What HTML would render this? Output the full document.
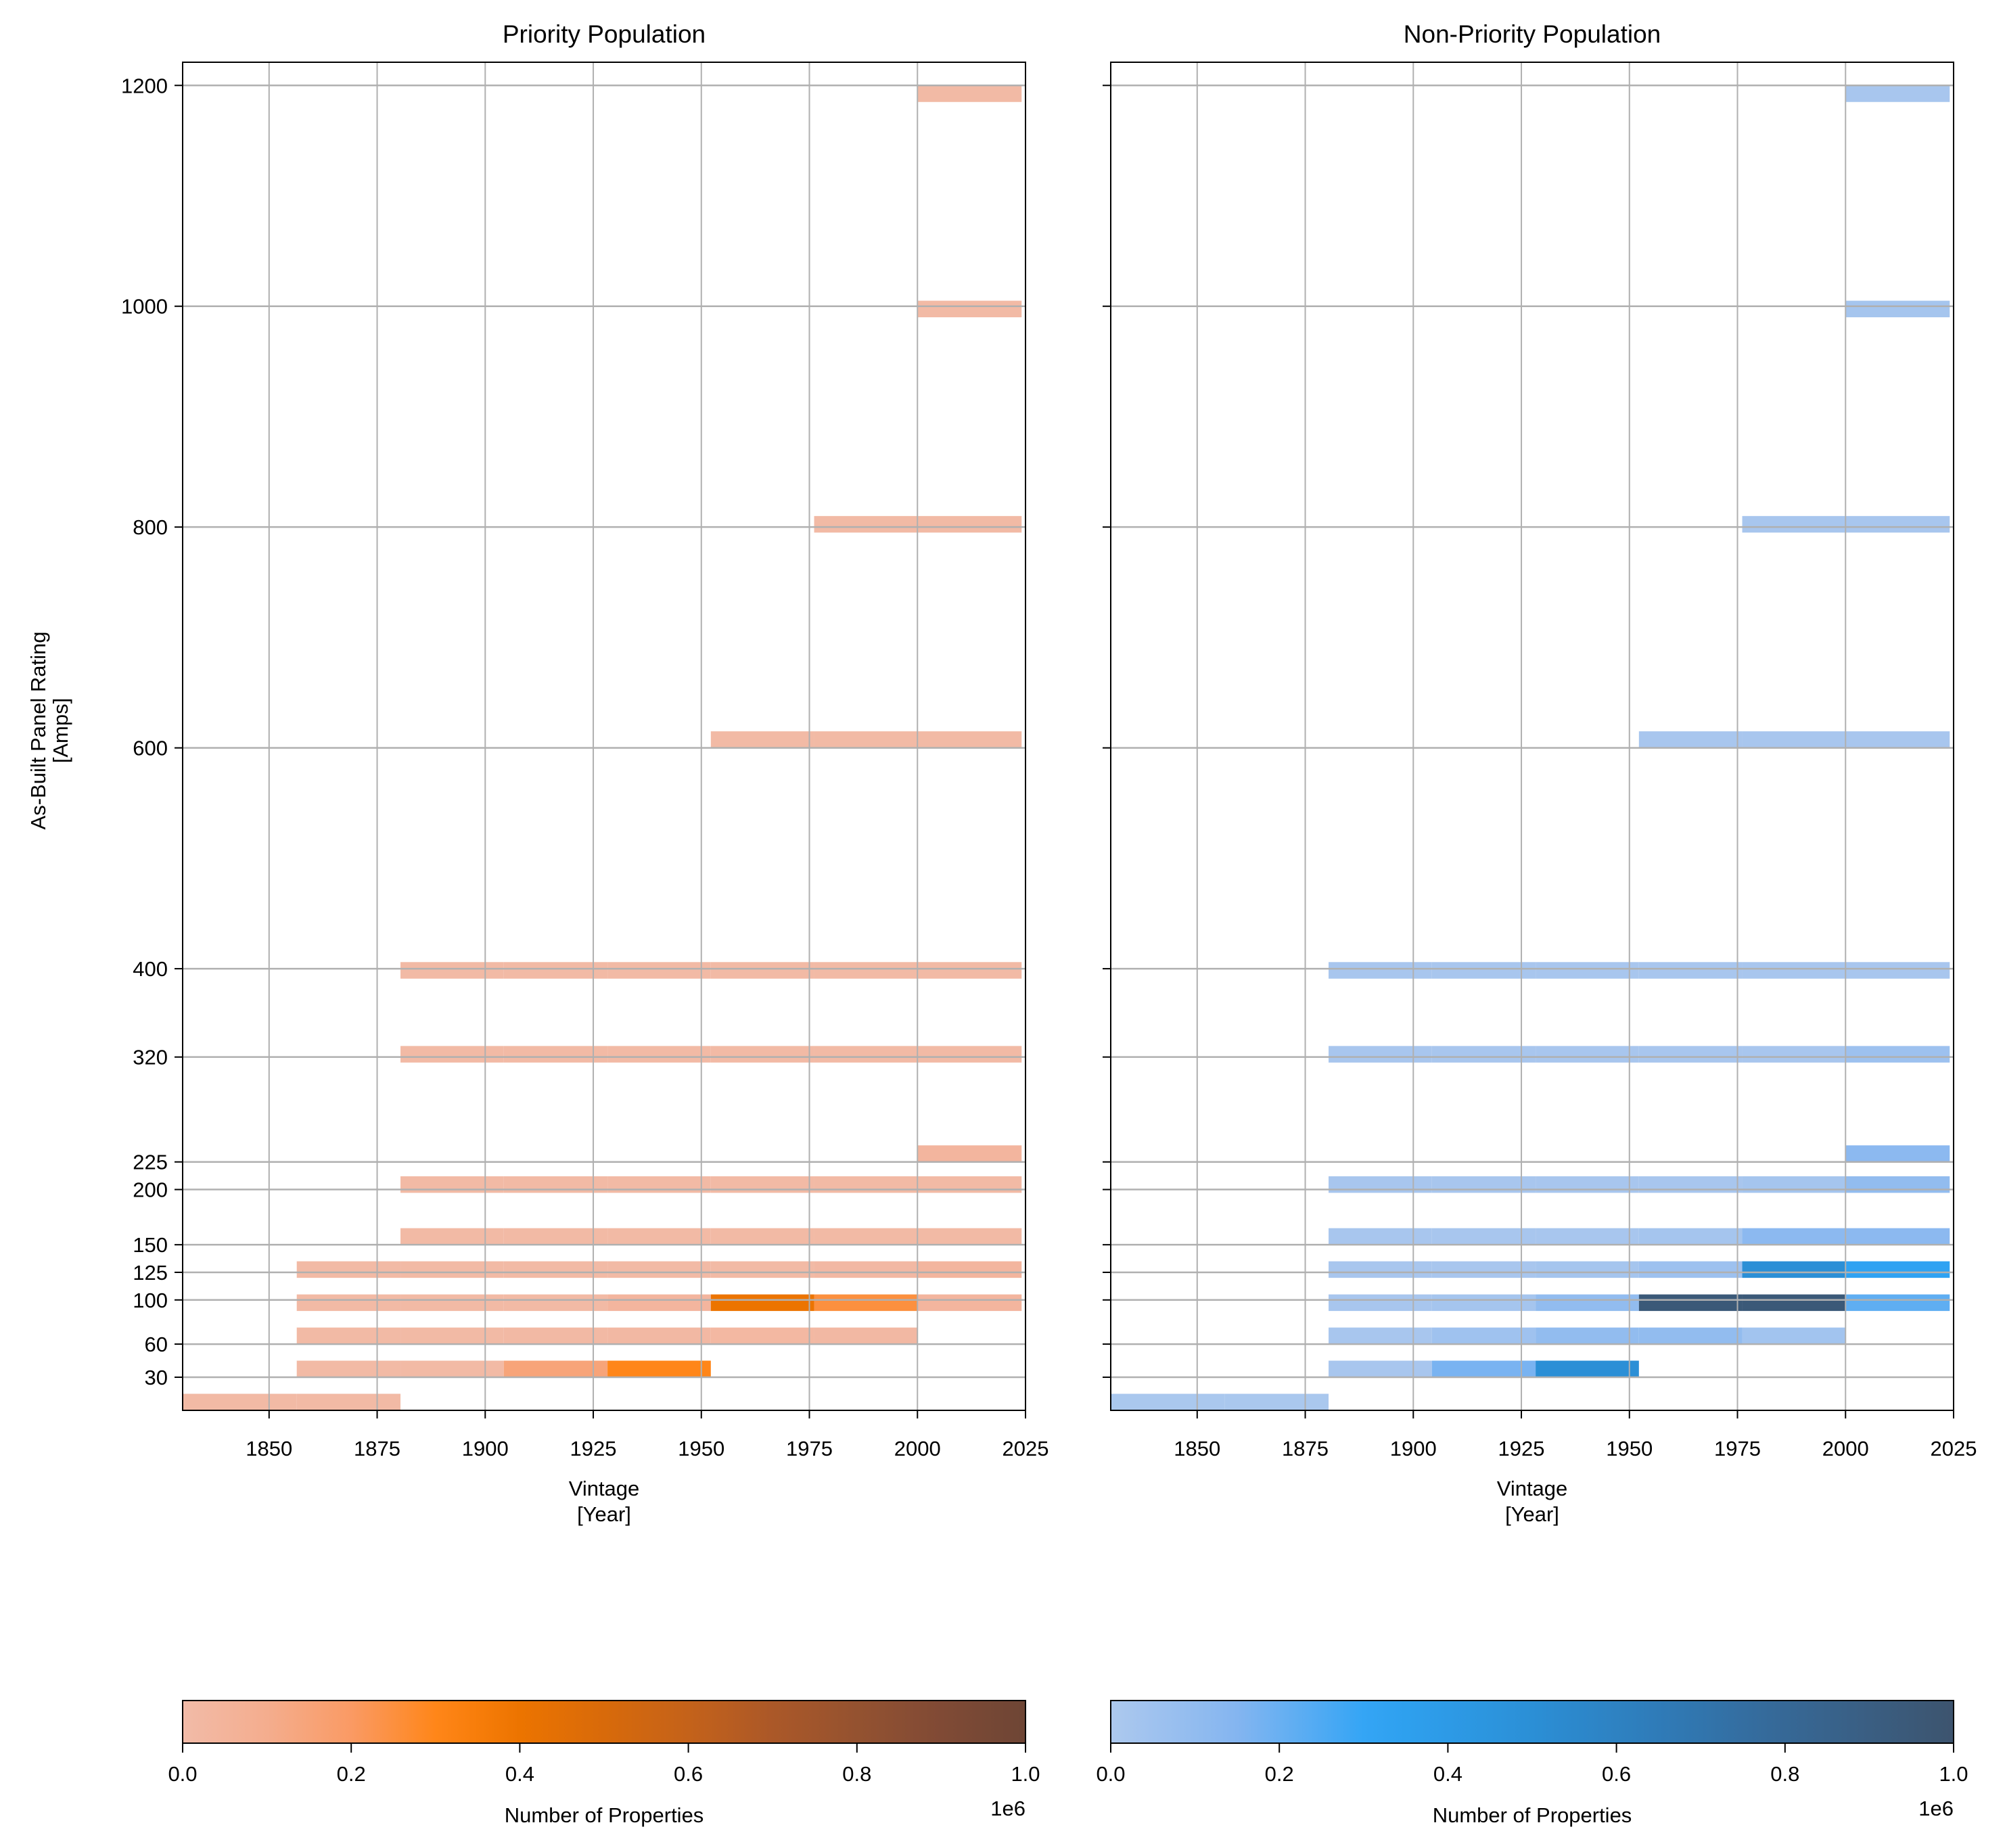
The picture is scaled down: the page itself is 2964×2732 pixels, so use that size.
<!DOCTYPE html>
<html><head><meta charset="utf-8">
<style>
html,body{margin:0;padding:0;background:#fff;}
svg{display:block;font-family:"Liberation Sans","DejaVu Sans",sans-serif;}
</style></head>
<body>
<svg id="chart" width="2964" height="2732" viewBox="0 0 2964 2732" xmlns="http://www.w3.org/2000/svg"></svg>
<script>
// ---- data ----
const binEdges = [1830, 1856.4, 1880.4, 1904.3, 1928.3, 1952.2, 1976.1, 2000.1, 2024.1];
const rowLow = [0, 30, 60, 90, 120, 150, 197, 225, 315, 391, 600, 795, 990, 1185];
const rowHeight = 15;
const yTicks = [30, 60, 100, 125, 150, 200, 225, 320, 400, 600, 800, 1000, 1200];
const xTicks = [1850, 1875, 1900, 1925, 1950, 1975, 2000, 2025];
const cbTicks = [0.0, 0.2, 0.4, 0.6, 0.8, 1.0];
const cbTickLabels = ["0.0", "0.2", "0.4", "0.6", "0.8", "1.0"];
// values in millions of properties; null = no bar
const priorityValues = [
  [0.01,0.01,null,null,null,null,null,null],
  [null,0.01,0.01,0.15,0.30,null,null,null],
  [null,0.01,0.01,0.015,0.02,0.025,0.02,null],
  [null,0.01,0.01,0.01,0.04,0.40,0.25,0.04],
  [null,0.01,0.01,0.01,0.01,0.01,0.02,0.04],
  [null,null,0.01,0.01,0.01,0.01,0.01,0.01],
  [null,null,0.01,0.01,0.01,0.01,0.01,0.01],
  [null,null,null,null,null,null,null,0.04],
  [null,null,0.01,0.01,0.01,0.01,0.01,0.01],
  [null,null,0.01,0.01,0.01,0.01,0.01,0.01],
  [null,null,null,null,null,0.01,0.01,0.01],
  [null,null,null,null,null,null,0.01,0.01],
  [null,null,null,null,null,null,null,0.01],
  [null,null,null,null,null,null,null,0.01]
];
const nonPriorityValues = [
  [0.01,0.01,null,null,null,null,null,null],
  [null,null,0.02,0.17,0.50,null,null,null],
  [null,null,0.02,0.05,0.10,0.10,0.04,null],
  [null,null,0.02,0.03,0.10,0.95,0.95,0.22],
  [null,null,0.02,0.02,0.03,0.06,0.50,0.33],
  [null,null,0.02,0.02,0.02,0.03,0.12,0.12],
  [null,null,0.02,0.02,0.02,0.02,0.03,0.10],
  [null,null,null,null,null,null,null,0.12],
  [null,null,0.02,0.02,0.02,0.02,0.02,0.06],
  [null,null,0.02,0.02,0.02,0.02,0.02,0.02],
  [null,null,null,null,null,0.02,0.02,0.02],
  [null,null,null,null,null,null,0.02,0.02],
  [null,null,null,null,null,null,null,0.03],
  [null,null,null,null,null,null,null,0.02]
];

// ---- colormaps ----
const orangeStops = [[0,"#f2bba8"],[0.1,"#f4ad8e"],[0.2,"#fa9a64"],[0.31,"#ff8412"],[0.4,"#ec7400"],[0.5,"#d86a0a"],[0.6,"#c4621a"],[0.7,"#ab5828"],[0.8,"#945230"],[0.9,"#804a35"],[1,"#6e4535"]];
const blueStops = [[0,"#adc9ee"],[0.15,"#84b5f0"],[0.31,"#2fa4f5"],[0.5,"#2b8fd6"],[0.65,"#2f7bb8"],[0.8,"#366896"],[1,"#3d546e"]];
function hex(c){return [parseInt(c.substr(1,2),16),parseInt(c.substr(3,2),16),parseInt(c.substr(5,2),16)];}
function cmap(stops,v){
  v=Math.max(0,Math.min(1,v));
  for(let i=1;i<stops.length;i++){
    if(v<=stops[i][0]){
      const t=(v-stops[i-1][0])/(stops[i][0]-stops[i-1][0]);
      const a=hex(stops[i-1][1]),b=hex(stops[i][1]);
      return "rgb("+a.map((x,k)=>Math.round(x+(b[k]-x)*t)).join(",")+")";
    }
  }
  return stops[stops.length-1][1];
}

const NS="http://www.w3.org/2000/svg";
const svg=document.getElementById('chart');
function el(tag,attrs,parent){const e=document.createElementNS(NS,tag);for(const k in attrs)e.setAttribute(k,attrs[k]);(parent||svg).appendChild(e);return e;}

const plotTop=92, plotBottom=2085, yMin=0, yMax=1221;
const xMin=1830, xMax=2025;
const FS=31;
function yScale(v){return plotBottom-(v-yMin)/(yMax-yMin)*(plotBottom-plotTop);}

function panel(left,right,title,values,stops,name,showY){
  const xScale=v=>left+(v-xMin)/(xMax-xMin)*(right-left);
  const g=el('g',{});
  
  
  values.forEach((row,ri)=>{
    row.forEach((v,bi)=>{
      if(v===null)return;
      const x0=xScale(binEdges[bi]),x1=xScale(binEdges[bi+1]);
      const y1=yScale(rowLow[ri]),y0=yScale(rowLow[ri]+rowHeight);
      const r=el('rect',{x:x0,y:y0,width:x1-x0,height:y1-y0,fill:cmap(stops,v)},g);
      
      
    });
  });
  xTicks.forEach(t=>{
    const x=xScale(t);
    const l=el('line',{x1:x,x2:x,y1:plotTop,y2:plotBottom,stroke:'#b0b0b0','stroke-width':2},g);
    
    
    el('line',{x1:x,x2:x,y1:plotBottom,y2:plotBottom+12,stroke:'#000','stroke-width':2},g);
    const tx=el('text',{x:x,y:2152,'text-anchor':'middle','font-size':FS,fill:'#000'},g);
    tx.textContent=t;
    
    
  });
  yTicks.forEach(t=>{
    const y=yScale(t);
    const l=el('line',{x1:left,x2:right,y1:y,y2:y,stroke:'#b0b0b0','stroke-width':2.5},g);
    
    
    el('line',{x1:left-12,x2:left,y1:y,y2:y,stroke:'#000','stroke-width':2},g);
    if(showY){
      const tx=el('text',{x:left-22,y:y+11,'text-anchor':'end','font-size':FS,fill:'#000'},g);
      tx.textContent=t;
      
      
    }
  });
  const fr=el('rect',{x:left,y:plotTop,width:right-left,height:plotBottom-plotTop,fill:'none',stroke:'#000','stroke-width':2},g);
  
  
  const tt=el('text',{x:(left+right)/2,y:63,'text-anchor':'middle','font-size':37,fill:'#000'},g);
  tt.textContent=title;
  
  
  const xt1=el('text',{x:(left+right)/2,y:2211,'text-anchor':'middle','font-size':FS,fill:'#000'},g);
  xt1.textContent='Vintage';
  
  
  const xt2=el('text',{x:(left+right)/2,y:2249,'text-anchor':'middle','font-size':FS,fill:'#000'},g);
  xt2.textContent='[Year]';
  
  

  const cbTop=2514, cbBot=2577;
  const gid=name+'-grad';
  const defs=el('defs',{},g);
  const lg=el('linearGradient',{id:gid,x1:0,x2:1,y1:0,y2:0},defs);
  for(let i=0;i<=20;i++){el('stop',{offset:i/20,'stop-color':cmap(stops,i/20)},lg);}
  const cb=el('rect',{x:left,y:cbTop,width:right-left,height:cbBot-cbTop,fill:'url(#'+gid+')',stroke:'#000','stroke-width':2},g);
  
  
  cbTicks.forEach((t,i)=>{
    const x=left+t*(right-left);
    el('line',{x1:x,x2:x,y1:cbBot,y2:cbBot+14,stroke:'#000','stroke-width':2},g);
    const tx=el('text',{x:x,y:2633,'text-anchor':'middle','font-size':FS,fill:'#000'},g);
    tx.textContent=cbTickLabels[i];
    
    
  });
  const cl=el('text',{x:(left+right)/2,y:2694,'text-anchor':'middle','font-size':FS,fill:'#000'},g);
  cl.textContent='Number of Properties';
  
  
  const ex=el('text',{x:right,y:2684,'text-anchor':'end','font-size':FS,fill:'#000'},g);
  ex.textContent='1e6';
  
  
}

panel(270,1516,'Priority Population',priorityValues,orangeStops,'priority-panel',true);
panel(1642,2888,'Non-Priority Population',nonPriorityValues,blueStops,'non-priority-panel',false);

const yl=el('text',{x:0,y:0,'text-anchor':'middle','font-size':FS,fill:'#000',transform:'translate(67,1080) rotate(-90)'});
yl.textContent='As-Built Panel Rating';


const yl2=el('text',{x:0,y:0,'text-anchor':'middle','font-size':FS,fill:'#000',transform:'translate(100,1080) rotate(-90)'});
yl2.textContent='[Amps]';


</script>
</body></html>
